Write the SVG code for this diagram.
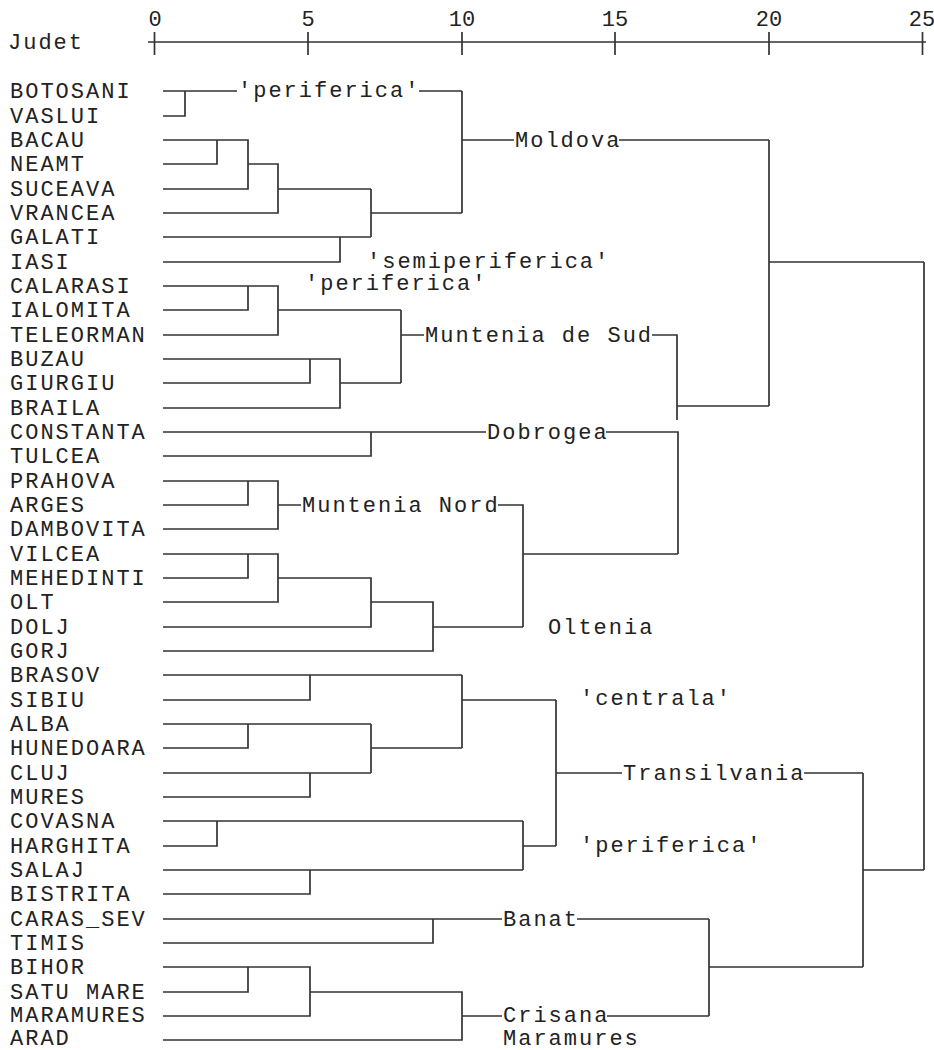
<svg xmlns="http://www.w3.org/2000/svg" width="934" height="1050" viewBox="0 0 934 1050">
<style>
text{font-family:"Liberation Mono","DejaVu Sans Mono",monospace;font-size:22px;letter-spacing:2px;fill:#222}
.ax{text-anchor:middle;letter-spacing:0}
path{fill:none;stroke:#333;stroke-width:1.7}
</style>
<rect width="934" height="1050" fill="#fff"/>
<g id="axis">
<path d="M148 42 H926 M154.5 32 V55 M308 32 V55 M462 32 V55 M615 32 V55 M769 32 V55 M922.5 32 V55"/>
<text class="ax" x="155" y="26">0</text>
<text class="ax" x="308" y="26">5</text>
<text class="ax" x="462" y="26">10</text>
<text class="ax" x="615" y="26">15</text>
<text class="ax" x="769" y="26">20</text>
<text class="ax" x="922" y="26">25</text>
<text x="8" y="49">Judet</text>
</g>
<g id="connectors">
<path d="M163 91 H185 V116 H163 M185 91 H237 M419 91 H462"/>
<path d="M163 140 H217 V164 H163 M217 140 H248 V189 H163 M248 164 H278 V213 H163 M278 189 H371"/>
<path d="M163 237 H340 V262 H163 M340 237 H371 M371 189 V237 M371 213 H462"/>
<path d="M462 91 V213 M462 140 H514 M619 140 H769"/>
<path d="M163 286 H248 V310 H163 M248 286 H278 V335 H163 M278 310 H401"/>
<path d="M163 359 H310 V383 H163 M310 359 H340 V408 H163 M340 383 H401"/>
<path d="M401 310 V383 M401 335 H424 M652 335 H677 V420 M677 406 H769"/>
<path d="M769 140 V406 M769 262 H924"/>
<path d="M163 432 H371 V456 H163 M371 432 H486 M606 432 H678 V554"/>
<path d="M163 481 H248 V505 H163 M248 481 H278 V529 H163 M278 505 H301 M498 505 H523 V627"/>
<path d="M163 554 H248 V578 H163 M248 554 H278 V602 H163 M278 578 H371 V627 H163 M371 602 H433 V651 H163 M433 627 H523 M523 554 H678"/>
<path d="M163 675 H310 V700 H163 M310 675 H462"/>
<path d="M163 724 H248 V748 H163 M248 724 H371 M163 773 H310 V797 H163 M310 773 H371 M371 724 V773 M371 748 H462 M462 675 V748 M462 700 H556"/>
<path d="M163 821 H217 V846 H163 M217 821 H523 M163 870 H310 V894 H163 M310 870 H523 M523 821 V870 M523 846 H556"/>
<path d="M556 700 V846 M556 773 H622 M804 773 H863"/>
<path d="M163 919 H433 V943 H163 M433 919 H502 M577 919 H709"/>
<path d="M163 967 H248 V992 H163 M248 967 H310 V1016 H163 M310 992 H462 V1040 H163 M462 1016 H502 M607 1016 H709"/>
<path d="M709 919 V1016 M709 967 H863 M863 773 V967 M863 870 H924 M924 262 V870"/>
</g>
<g id="leaves">
<g id="n-botosani"><text x="10" y="98">BOTOSANI</text></g>
<g id="n-vaslui"><text x="10" y="123">VASLUI</text></g>
<g id="n-bacau"><text x="10" y="147">BACAU</text></g>
<g id="n-neamt"><text x="10" y="171">NEAMT</text></g>
<g id="n-suceava"><text x="10" y="196">SUCEAVA</text></g>
<g id="n-vrancea"><text x="10" y="220">VRANCEA</text></g>
<g id="n-galati"><text x="10" y="244">GALATI</text></g>
<g id="n-iasi"><text x="10" y="269">IASI</text></g>
<g id="n-calarasi"><text x="10" y="293">CALARASI</text></g>
<g id="n-ialomita"><text x="10" y="317">IALOMITA</text></g>
<g id="n-teleorman"><text x="10" y="342">TELEORMAN</text></g>
<g id="n-buzau"><text x="10" y="366">BUZAU</text></g>
<g id="n-giurgiu"><text x="10" y="390">GIURGIU</text></g>
<g id="n-braila"><text x="10" y="415">BRAILA</text></g>
<g id="n-constanta"><text x="10" y="439">CONSTANTA</text></g>
<g id="n-tulcea"><text x="10" y="463">TULCEA</text></g>
<g id="n-prahova"><text x="10" y="488">PRAHOVA</text></g>
<g id="n-arges"><text x="10" y="512">ARGES</text></g>
<g id="n-dambovita"><text x="10" y="536">DAMBOVITA</text></g>
<g id="n-vilcea"><text x="10" y="561">VILCEA</text></g>
<g id="n-mehedinti"><text x="10" y="585">MEHEDINTI</text></g>
<g id="n-olt"><text x="10" y="609">OLT</text></g>
<g id="n-dolj"><text x="10" y="634">DOLJ</text></g>
<g id="n-gorj"><text x="10" y="658">GORJ</text></g>
<g id="n-brasov"><text x="10" y="682">BRASOV</text></g>
<g id="n-sibiu"><text x="10" y="707">SIBIU</text></g>
<g id="n-alba"><text x="10" y="731">ALBA</text></g>
<g id="n-hunedoara"><text x="10" y="755">HUNEDOARA</text></g>
<g id="n-cluj"><text x="10" y="780">CLUJ</text></g>
<g id="n-mures"><text x="10" y="804">MURES</text></g>
<g id="n-covasna"><text x="10" y="828">COVASNA</text></g>
<g id="n-harghita"><text x="10" y="853">HARGHITA</text></g>
<g id="n-salaj"><text x="10" y="877">SALAJ</text></g>
<g id="n-bistrita"><text x="10" y="901">BISTRITA</text></g>
<g id="n-caras-sev"><text x="10" y="926">CARAS_SEV</text></g>
<g id="n-timis"><text x="10" y="950">TIMIS</text></g>
<g id="n-bihor"><text x="10" y="974">BIHOR</text></g>
<g id="n-satu-mare"><text x="10" y="999">SATU MARE</text></g>
<g id="n-maramures"><text x="10" y="1022">MARAMURES</text></g>
<g id="n-arad"><text x="10" y="1045">ARAD</text></g>
</g>
<g id="clusters">
<g id="c-periferica-moldova"><text x="238" y="97">'periferica'</text></g>
<g id="c-moldova"><text x="515" y="147">Moldova</text></g>
<g id="c-semiperiferica"><text x="367" y="268">'semiperiferica'</text></g>
<g id="c-periferica-muntenia"><text x="305" y="290">'periferica'</text></g>
<g id="c-muntenia-sud"><text x="425" y="342">Muntenia de Sud</text></g>
<g id="c-dobrogea"><text x="487" y="439">Dobrogea</text></g>
<g id="c-muntenia-nord"><text x="302" y="512">Muntenia Nord</text></g>
<g id="c-oltenia"><text x="548" y="634">Oltenia</text></g>
<g id="c-centrala"><text x="580" y="705">'centrala'</text></g>
<g id="c-transilvania"><text x="623" y="780">Transilvania</text></g>
<g id="c-periferica-transilvania"><text x="580" y="852">'periferica'</text></g>
<g id="c-banat"><text x="503" y="926">Banat</text></g>
<g id="c-crisana"><text x="503" y="1022">Crisana</text></g>
<g id="c-maramures"><text x="503" y="1045">Maramures</text></g>
</g>
</svg>
